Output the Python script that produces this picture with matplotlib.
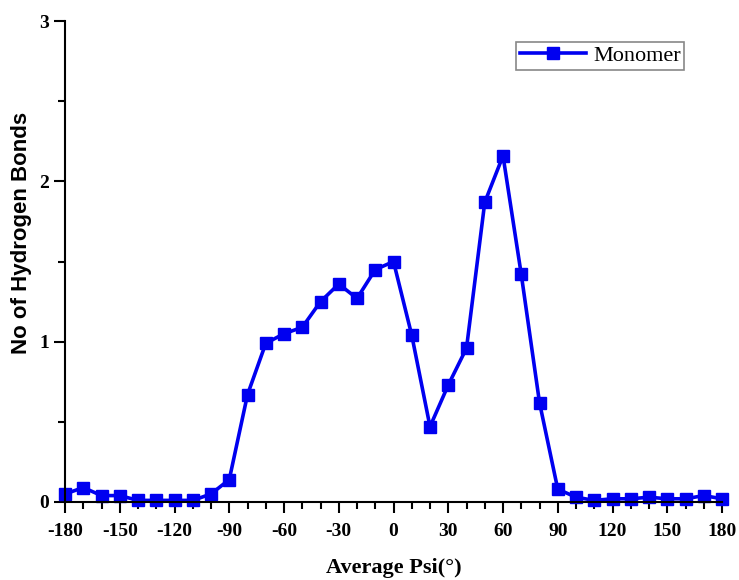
import matplotlib
matplotlib.use("Agg")
import matplotlib.pyplot as plt
from matplotlib.ticker import MultipleLocator

plt.rcParams['axes.unicode_minus'] = False

psi = list(range(-180, 181, 10))
hbonds = [0.05, 0.09, 0.04, 0.04, 0.01, 0.01, 0.01, 0.01, 0.05, 0.14,
          0.67, 0.99, 1.05, 1.09, 1.25, 1.36, 1.27, 1.45, 1.50,
          1.04, 0.47, 0.73, 0.96, 1.87, 2.16, 1.42, 0.62, 0.08,
          0.03, 0.01, 0.02, 0.02, 0.03, 0.02, 0.02, 0.04, 0.02]
xticks = list(range(-180, 181, 30))
yticks = [0, 1, 2, 3]

fig = plt.figure(figsize=(7.39, 5.80), dpi=100)
ax = fig.add_axes([0.088, 0.1345, 0.889, 0.829])
ax.plot(psi, hbonds, color='#0000f0', lw=2.6, marker='s', ms=8, label='Monomer', clip_on=False)
ax.set_xlim(-180, 180)
ax.set_ylim(0, 3)
ax.set_xticks(xticks)
ax.set_yticks(yticks)
ax.xaxis.set_minor_locator(MultipleLocator(10))
ax.yaxis.set_minor_locator(MultipleLocator(0.5))
for s in ['top', 'right']:
    ax.spines[s].set_visible(False)
for s in ['left', 'bottom']:
    ax.spines[s].set_linewidth(1.5)
ax.tick_params(which='major', direction='out', length=8, width=1.5)
ax.tick_params(axis='x', which='major', pad=7)
ax.tick_params(which='minor', direction='out', length=5, width=1.5)
for lab in ax.get_xticklabels() + ax.get_yticklabels():
    lab.set_fontfamily('Liberation Serif')
    lab.set_fontweight('bold')
    lab.set_fontsize(14)
ax.set_xlabel('Average Psi(°)', fontfamily='Liberation Serif', fontweight='bold', fontsize=16)
ax.xaxis.set_label_coords(0.5, -0.117)
ax.set_ylabel('No of Hydrogen Bonds', fontfamily='Liberation Sans', fontweight='bold', fontsize=16)
ax.yaxis.set_label_coords(-0.051, 0.559)
leg = ax.legend(loc='upper right', bbox_to_anchor=(0.942, 0.956), prop={'family': 'Liberation Serif', 'size': 16},
                fancybox=False, framealpha=1, edgecolor='#888888', handlelength=3.0, borderpad=0.15,
                handletextpad=0.3, borderaxespad=0)
leg.get_frame().set_linewidth(1.2)
fig.savefig('out.png', dpi=100)
